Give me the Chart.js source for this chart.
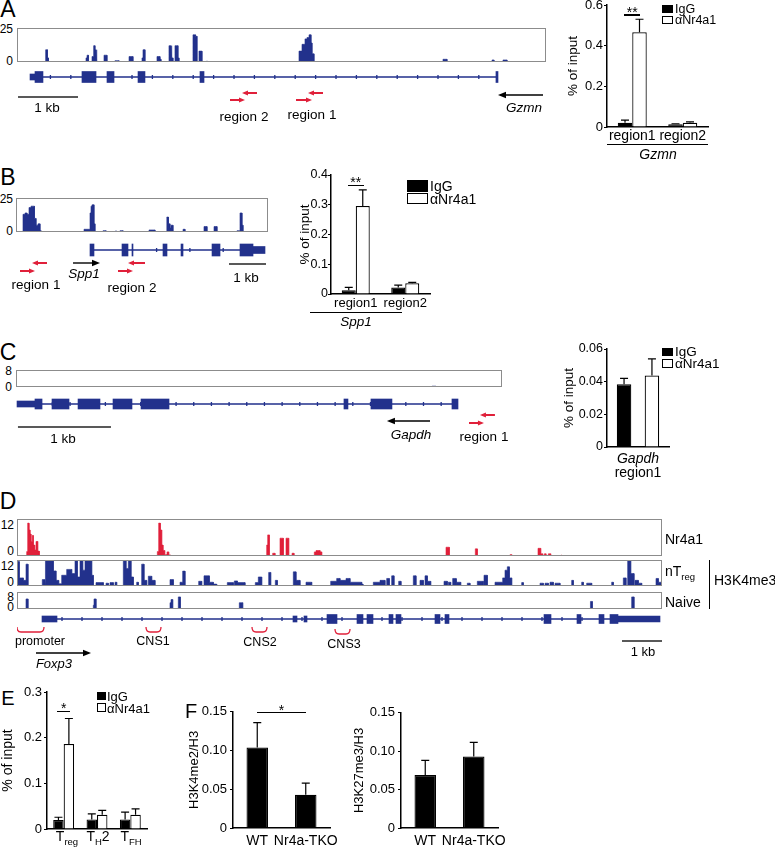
<!DOCTYPE html>
<html>
<head>
<meta charset="utf-8">
<script src="https://cdn.jsdelivr.net/npm/chart.js@4.4.0/dist/chart.umd.min.js"></script>
<style>
body { margin: 0; background: #fff; }
#fig { position: relative; width: 775px; height: 850px; overflow: hidden; font-family: "Liberation Sans", Arial, sans-serif; color: #000; }
#fig canvas { position: absolute; }
.t { position: absolute; white-space: nowrap; line-height: 1; }
.t sub { font-size: 0.68em; vertical-align: -0.45em; line-height: 0; }
.box { position: absolute; border: 1px solid #8c8c8c; box-sizing: border-box; }
.ln { position: absolute; background: #000; }
.sw { position: absolute; border: 1px solid #000; box-sizing: border-box; }
</style>
</head>
<body>
<div id="fig"></div>
<script>
// ChIP-seq coverage, [position bp, height] change points (height holds until the next point)
const gzmnChip = [[467,3],[483,9],[508,3],[525,0],[1150,3],[1167,5],[1192,0],
  [1250,4],[1267,9],[1283,12],[1300,9],[1317,5],[1333,0],[1450,5],[1500,0],[1633,1],[1700,0],
  [1867,4],[1933,0],[2083,3],[2100,9],[2133,0],[2333,4],[2383,2],[2400,0],
  [2533,12],[2567,11],[2583,3],[2600,0],[2633,12],[2683,3],[2700,0],
  [2933,20],[2975,19],[3000,0],[3033,8],[3083,0],[3150,0.5],[3183,0],
  [4700,8],[4750,13],[4800,17],[4833,18],[4867,20],[4900,14],[4917,6],[4950,0],
  [7100,2],[7167,0],[7917,1.5],[7950,0],[8100,1.5],[8167,0]];
const spp1Chip = [[189,13],[243,14],[297,13],[351,18],[405,19],[500,10],[541,5],[595,6],[649,1],[676,0],
  [1838,2],[2000,14],[2027,19],[2054,20],[2108,6],[2135,0],
  [2352,1],[2433,0],[2676,0.7],[2730,0],[2811,1],[2892,0],[3595,1.5],[3757,0],
  [4068,3],[4081,11],[4122,6],[4162,3],[4189,5],[4243,0],
  [4514,2],[4568,0],[5081,4],[5163,0],[5352,4],[5433,0],
  [5974,1],[6054,14],[6108,5],[6136,0]];
const gapdhChip = [[4472,0.4],[4515,0]];
const foxp3Nr4a1 = [[242,1.6],[267,12],[300,9.5],[325,8],[350,5.3],[383,7.5],[408,4],[442,2.2],[475,5.3],[517,1.8],[558,0],
  [3508,1.6],[3542,12],[3583,9.5],[3617,4],[3650,2],[3692,0.5],[3742,0],[3750,1.5],[3792,0.4],[3833,0],
  [6242,4],[6267,7.7],[6308,0],[6392,1],[6450,0],[6575,6.5],[6658,0],[6725,6.5],[6792,0],[6875,1],[6925,0],
  [7433,1.5],[7475,2],[7575,1.5],[7617,0],
  [10725,3.2],[10808,0],[11458,2.6],[11508,0],[12325,0.5],[12367,0],
  [13025,2.8],[13092,0.8],[13142,0],[13183,0.8],[13225,0],[13283,0.8],[13342,0],[13600,0.3],[13625,0]];
const foxp3Treg = [[0,13],[57,4.3],[157,3],[225,11.6],[275,0],[632,3.4],[700,0],
  [717,14],[908,8],[975,3],[1042,1.2],[1117,5.7],[1242,8.8],[1367,6.6],[1450,14],[1508,4.8],[1575,14],[1642,8.4],[1700,14],[1867,5.7],[1908,0],
  [1975,1.8],[2158,0],[2225,1.5],[2283,0],[2325,1.8],[2408,0],[2450,2],[2492,0],
  [2658,14],[2725,9.3],[2783,14],[2850,4.8],[2908,0],[2992,2],[3033,0],
  [3117,11.6],[3175,3],[3242,0],[3283,5.2],[3367,3],[3450,0],
  [3825,3.4],[3908,0],[4075,2],[4142,7.9],[4200,0],
  [4542,2.5],[4617,0],[4675,5.4],[4808,2],[4908,1],[4992,0],
  [5258,1.8],[5408,0],[5433,2.7],[5508,1.8],[5700,0],
  [5958,1.8],[6033,4.8],[6117,0],[6292,7.2],[6342,0],[6458,3],[6508,0],
  [6908,7.5],[6975,3],[7075,0],[7225,2],[7367,0],
  [7842,2.5],[7992,4],[8075,3],[8225,4],[8325,2],[8617,1],[8650,0],
  [8908,2],[9075,3],[9200,0],[9242,4],[9308,0],[9367,5.4],[9425,0],[9542,2.5],[9600,0],
  [9908,5.4],[9975,0],[10075,3],[10158,0],[10200,5.4],[10258,2.5],[10342,0],
  [10675,2.5],[10758,0],[10783,2],[10842,0],[10892,4],[10975,0],[10992,2],[11092,0],[11258,1.5],[11325,0],
  [11508,2.5],[11658,0],[11675,5.7],[11758,0],
  [11950,2],[12142,4.3],[12200,8.4],[12258,10.2],[12308,4.3],[12367,0],
  [12617,1.8],[12658,0],[13075,1.5],[13158,0],[13200,1.5],[13283,0],[13325,2],[13408,0],[13450,1.5],[13575,0],
  [13867,3],[13908,0],[14117,2],[14158,0],[14242,1.5],[14367,0],[14867,2],[14908,0],
  [15158,4.3],[15225,0],[15267,14],[15342,6.6],[15425,0],[15450,3],[15533,1.5],[15617,0],
  [15975,4],[16033,2],[16117,0]];
const foxp3Naive = [[225,8],[275,0],[1908,3],[1925,8],[1975,0],[3825,5],[3850,7.5],[3892,0],
  [4033,9.6],[4083,0],[5558,5],[5642,0],[14325,3],[14342,6],[14383,0],[15367,9.6],[15425,0]];

// gene models (bp from left edge of each track)
const gzmnExons = [[300,433],[1083,1317],[1500,1617],[2017,2133],[3050,3117],[7983,8017]];
const gzmnUtr = [[217,300]];
const spp1Exons = [[2000,2108],[2865,3027],[3135,3162],[3973,4081],[4460,4514],[5298,5514],[6054,6406]];
const spp1Utr = [[6406,6730]];
const gapdhExons = [[204,280],[387,570],[667,903],[1043,1247],[1344,1645],[3526,3569],[3816,4042],[4687,4752]];
const gapdhUtr = [[11,204]];
const foxp3Exons = [[7750,8000],[8500,8650],[8750,8900],[9300,9400],[9475,9600],[10450,10575],[10700,10800],
  [13175,13350],[14000,14100],[14550,14675],[14825,15025]];
const foxp3Utr = [[625,1000],[6900,7000],[7175,7250],[15025,16075]];

// primers (forward / reverse), transcription arrows, 1 kb bars, CNS brackets
const gzmnPrimerF = [[3550,3800],[4650,4917]];
const gzmnPrimerR = [[3750,4000],[4850,5100]];
const spp1PrimerF = [[108,514],[2757,3162]];
const spp1PrimerR = [[432,838],[3027,3487]];
const gapdhPrimerF = [[4870,5031]];
const gapdhPrimerR = [[4988,5149]];
const foxp3Regions = [[0,675],[3225,3600],[5875,6250],[7950,8325]];

// qPCR, % of input
const gzmnRegions = ['region1', 'region2'];
const gzmnIgG = [0.021, 0.013];
const gzmnIgGErr = [0.013, 0.003];
const gzmnNr4a1 = [0.466, 0.021];
const gzmnNr4a1Err = [0.064, 0.004];
const spp1Regions = ['region1', 'region2'];
const spp1IgG = [0.013, 0.022];
const spp1IgGErr = [0.009, 0.008];
const spp1Nr4a1 = [0.296, 0.036];
const spp1Nr4a1Err = [0.054, 0.003];
const gapdhIgG = [0.0384];
const gapdhIgGErr = [0.0036];
const gapdhNr4a1 = [0.0437];
const gapdhNr4a1Err = [0.0103];
const cellTypes = ['Treg', 'TH2', 'TFH'];
const foxp3IgG = [0.0197, 0.021, 0.021];
const foxp3IgGErr = [0.006, 0.012, 0.016];
const foxp3Nr4a1Bar = [0.186, 0.031, 0.031];
const foxp3Nr4a1Err = [0.056, 0.01, 0.013];
const genotypes = ['WT', 'Nr4a-TKO'];
const h3k4me2 = [0.104, 0.043];
const h3k4me2Err = [0.032, 0.015];
const h3k27me3 = [0.069, 0.093];
const h3k27me3Err = [0.019, 0.0185];

const NAVY = '#22318c';
const RED = '#e0203a';
Chart.defaults.font.family = '"Liberation Sans", Arial, sans-serif';
Chart.defaults.color = '#000';
Chart.defaults.animation = false;
Chart.defaults.responsive = false;

const fig = document.getElementById('fig');

function addCanvas(x, y, w, h) {
    const c = document.createElement('canvas');
    c.width = Math.round(w);
    c.height = Math.round(h);
    c.style.left = Math.round(x) + 'px';
    c.style.top = Math.round(y) + 'px';
    fig.appendChild(c);
    return c;
}

// y is the vertical centre of the text, unless opt.top is set (then y is the top of a 1em box)
function label(html, x, y, size, opt) {
    opt = opt || {};
    const d = document.createElement('div');
    d.className = 't';
    d.innerHTML = html;
    d.style.fontSize = size + 'px';
    d.style.left = x + 'px';
    d.style.top = (opt.top ? y : y) + 'px';
    const ax = opt.align === 'left' ? '0' : (opt.align === 'right' ? '-100%' : '-50%');
    d.style.transform = 'translate(' + ax + ', ' + (opt.top ? '0' : '-50%') + ')';
    if (opt.italic) d.style.fontStyle = 'italic';
    fig.appendChild(d);
}

function rule(x, y, w, h) {
    const d = document.createElement('div');
    d.className = 'ln';
    d.style.left = x + 'px'; d.style.top = y + 'px';
    d.style.width = w + 'px'; d.style.height = h + 'px';
    fig.appendChild(d);
}

function swatch(x, y, w, h, filled) {
    const d = document.createElement('div');
    d.className = 'sw';
    d.style.left = x + 'px'; d.style.top = y + 'px';
    d.style.width = w + 'px'; d.style.height = h + 'px';
    d.style.background = filled ? '#000' : '#fff';
    fig.appendChild(d);
}

// coverage track: filled step area inside a grey box
function trackChart(box, runs, len, maxVal, color) {
    const cv = addCanvas(box.x, box.y, box.w, box.h);
    const pts = [{x: 0, y: 0}];
    let prev = 0;
    runs.forEach(r => {
        pts.push({x: r[0], y: prev}, {x: r[0], y: r[1]});
        prev = r[1];
    });
    pts.push({x: len, y: prev}, {x: len, y: 0});
    new Chart(cv, {
        type: 'line',
        data: { datasets: [{ data: pts, fill: 'origin', backgroundColor: color, borderColor: color,
            borderWidth: 0.6, pointRadius: 0, tension: 0 }] },
        options: {
            layout: { padding: 0 },
            scales: {
                x: { type: 'linear', min: 0, max: len, display: false },
                y: { min: 0, max: maxVal, display: false }
            },
            plugins: { legend: { display: false }, tooltip: { enabled: false } }
        }
    });
    const b = document.createElement('div');
    b.className = 'box';
    b.style.left = box.x + 'px'; b.style.top = box.y + 'px';
    b.style.width = box.w + 'px'; b.style.height = box.h + 'px';
    fig.appendChild(b);
}

function drawArrow(ctx, x1, x2, y, color, lw, head) {
    const dir = Math.sign(x2 - x1);
    ctx.strokeStyle = color;
    ctx.fillStyle = color;
    ctx.lineWidth = lw;
    ctx.beginPath();
    ctx.moveTo(x1, y);
    ctx.lineTo(x2 - dir * head * 0.7, y);
    ctx.stroke();
    ctx.beginPath();
    ctx.moveTo(x2, y);
    ctx.lineTo(x2 - dir * head, y - head * 0.42);
    ctx.lineTo(x2 - dir * head, y + head * 0.42);
    ctx.closePath();
    ctx.fill();
}

const geneDraw = {
    id: 'geneDraw',
    beforeDatasetsDraw(chart, args, o) {
        const ctx = chart.ctx, xs = chart.scales.x;
        const cy = chart.scales.y.getPixelForValue(0);
        ctx.save();
        ctx.strokeStyle = NAVY;
        ctx.lineWidth = 1.3;
        ctx.beginPath();
        ctx.moveTo(xs.getPixelForValue(o.span[0]), cy);
        ctx.lineTo(xs.getPixelForValue(o.span[1]), cy);
        for (let p = o.span[0] + o.tick; p < o.span[1] - o.tick / 3; p += o.tick) {
            const px = xs.getPixelForValue(p);
            ctx.moveTo(px, cy - 2);
            ctx.lineTo(px, cy + 2);
        }
        ctx.stroke();
        ctx.restore();
    },
    afterDraw(chart, args, o) {
        const ctx = chart.ctx, xs = chart.scales.x;
        const cy = chart.scales.y.getPixelForValue(0);
        const px = v => xs.getPixelForValue(v);
        ctx.save();
        (o.fwd || []).forEach(p => drawArrow(ctx, px(p[0]), px(p[1]), cy + o.fwdDy, RED, 2, 6));
        (o.rev || []).forEach(p => drawArrow(ctx, px(p[1]), px(p[0]), cy + o.revDy, RED, 2, 6));
        if (o.tx) drawArrow(ctx, px(o.tx[0]), px(o.tx[1]), cy + o.txDy, '#000', 1.4, 8);
        if (o.bar) {
            ctx.strokeStyle = '#222';
            ctx.lineWidth = 1.5;
            ctx.beginPath();
            ctx.moveTo(px(o.bar[0]), cy + o.barDy);
            ctx.lineTo(px(o.bar[1]), cy + o.barDy);
            ctx.stroke();
        }
        (o.brackets || []).forEach((b, i) => {
            const x1 = px(b[0]), x2 = px(b[1]);
            const y1 = cy + o.brDy[i], y2 = y1 + 5;
            ctx.strokeStyle = RED;
            ctx.lineWidth = 1.3;
            ctx.beginPath();
            ctx.moveTo(x1, y1);
            ctx.quadraticCurveTo(x1, y2, x1 + 4, y2);
            ctx.lineTo(x2 - 4, y2);
            ctx.quadraticCurveTo(x2, y2, x2, y1);
            ctx.stroke();
        });
        ctx.restore();
    }
};

// gene model below a track, same genomic x range
function geneChart(x, geneY, w, h, len, exons, utr, exonH, utrH, anno) {
    const cv = addCanvas(x, geneY - 8, w, h);
    new Chart(cv, {
        type: 'bar',
        data: {
            labels: ['g'],
            datasets: [
                { data: exons.map(e => ({ y: 'g', x: e })), backgroundColor: NAVY, barThickness: exonH },
                { data: utr.map(e => ({ y: 'g', x: e })), backgroundColor: NAVY, barThickness: utrH }
            ]
        },
        options: {
            indexAxis: 'y',
            layout: { padding: { top: 0, left: 0, right: 0, bottom: h - 16 } },
            datasets: { bar: { grouped: false } },
            scales: {
                x: { type: 'linear', min: 0, max: len, display: false },
                y: { display: false }
            },
            plugins: { legend: { display: false }, tooltip: { enabled: false }, geneDraw: anno }
        },
        plugins: [geneDraw]
    });
}

const errorBars = {
    id: 'errorBars',
    afterDatasetsDraw(chart) {
        const ctx = chart.ctx, ys = chart.scales.y;
        ctx.save();
        ctx.strokeStyle = '#000';
        ctx.lineWidth = 1.2;
        chart.data.datasets.forEach((ds, i) => {
            chart.getDatasetMeta(i).data.forEach((bar, j) => {
                const top = ys.getPixelForValue(ds.data[j] + ds.errors[j]);
                ctx.beginPath();
                ctx.moveTo(bar.x, bar.y);
                ctx.lineTo(bar.x, top);
                ctx.moveTo(bar.x - 4, top);
                ctx.lineTo(bar.x + 4, top);
                ctx.stroke();
            });
        });
        ctx.restore();
    }
};

function barChart(c) {
    const a = c.area, padT = 10, padR = 40, xh = 26;
    const left = Math.round(c.titleX - c.titleSize * 0.6);
    const top = a.t - padT;
    const cv = addCanvas(left, top, a.r + padR - left, a.b + xh - top);
    const datasets = c.sets.map(s => ({
        data: s.data, errors: s.err, backgroundColor: s.fill ? '#000' : '#fff',
        borderColor: '#000', borderWidth: 1.2,
        categoryPercentage: c.catPct, barPercentage: c.barPct
    }));
    const chart = new Chart(cv, {
        type: 'bar',
        data: { labels: c.labels, datasets: datasets },
        options: {
            layout: { padding: { top: padT, right: padR, left: 0, bottom: 0 } },
            scales: {
                x: {
                    grid: { display: false, drawTicks: false },
                    border: { display: true, color: '#000', width: 1.5 },
                    ticks: { display: c.xTicks, font: { size: c.xTickSize }, padding: c.xTickPad, maxRotation: 0, autoSkip: false },
                    afterFit: s => { s.height = xh; }
                },
                y: {
                    min: 0, max: c.max,
                    ticks: { stepSize: c.step, font: { size: c.tickSize }, padding: c.tickPad },
                    grid: { drawOnChartArea: false, tickLength: 3, color: '#000' },
                    border: { display: true, color: '#000', width: 1.5 },
                    title: { display: true, text: c.title, font: { size: c.titleSize }, padding: 0 },
                    afterFit: s => { s.width = a.l - left; }
                }
            },
            plugins: { legend: { display: false }, tooltip: { enabled: false } }
        },
        plugins: [errorBars]
    });
    if (c.sig) {
        const s = c.sig;
        const A = chart.getDatasetMeta(s.a[0]).data[s.a[1]];
        const B = chart.getDatasetMeta(s.b[0]).data[s.b[1]];
        const y = top + chart.scales.y.getPixelForValue(s.v);
        const x1 = left + A.x - s.ext, x2 = left + B.x + s.ext;
        rule(x1, y - 0.6, x2 - x1, 1.3);
        label(s.text, (x1 + x2) / 2, y - 3, 14);
    }
    return chart;
}

// ---------- panel A ----------
label('A', 8, 9, 23);
label('25', 13, 29, 12, { align: 'right' });
label('0', 13, 61, 12, { align: 'right' });
trackChart({ x: 17, y: 28, w: 529, h: 34 }, gzmnChip, 8817, 25, NAVY);
geneChart(17, 77, 529, 42, 8817, gzmnExons, gzmnUtr, 11, 6, {
    span: [217, 8017], tick: 340,
    fwd: gzmnPrimerF, rev: gzmnPrimerR, fwdDy: 23, revDy: 16,
    tx: [8767, 8017], txDy: 18, bar: [17, 1017], barDy: 20
});
label('1 kb', 47, 108, 13.5);
label('region 2', 244, 117, 13.5);
label('region 1', 312, 115, 13.5);
label('Gzmn', 524, 108, 13.5, { italic: true });

barChart({
    area: { l: 607, t: 5, r: 708, b: 127 }, title: '% of input', titleX: 573, titleSize: 13.5,
    tickSize: 13, tickPad: 1, labels: gzmnRegions, xTicks: true, xTickSize: 14, xTickPad: 1,
    catPct: 0.574, barPct: 1, max: 0.6, step: 0.2,
    sets: [{ data: gzmnIgG, err: gzmnIgGErr, fill: true }, { data: gzmnNr4a1, err: gzmnNr4a1Err, fill: false }],
    sig: { a: [0, 0], b: [1, 0], v: 0.551, ext: 1, text: '**' }
});
rule(607, 144, 101, 1.2);
label('Gzmn', 658, 154, 14, { italic: true });
swatch(662, 5, 11, 8, true);
label('IgG', 675, 9, 12.5, { align: 'left' });
swatch(662, 16, 11, 8, false);
label('&alpha;Nr4a1', 675, 20, 12.5, { align: 'left' });

// ---------- panel B ----------
label('B', 8, 177, 23);
label('25', 13, 199, 12, { align: 'right' });
label('0', 13, 231, 12, { align: 'right' });
trackChart({ x: 16, y: 198, w: 252, h: 34 }, spp1Chip, 6811, 25, NAVY);
geneChart(16, 250, 252, 38, 6811, spp1Exons, spp1Utr, 12, 7, {
    span: [2000, 6730], tick: 900,
    fwd: spp1PrimerF, rev: spp1PrimerR, fwdDy: 21, revDy: 13,
    tx: [1541, 2270], txDy: 13, bar: [5757, 6757], barDy: 14
});
label('region 1', 36, 285, 13.5);
label('Spp1', 84, 274, 13.5, { italic: true });
label('region 2', 132, 288, 13.5);
label('1 kb', 246, 278, 13.5);

barChart({
    area: { l: 331, t: 175, r: 430, b: 294 }, title: '% of input', titleX: 305, titleSize: 13.5,
    tickSize: 12.5, tickPad: 0, labels: spp1Regions, xTicks: true, xTickSize: 13, xTickPad: 2,
    catPct: 0.566, barPct: 1, max: 0.4, step: 0.1,
    sets: [{ data: spp1IgG, err: spp1IgGErr, fill: true }, { data: spp1Nr4a1, err: spp1Nr4a1Err, fill: false }],
    sig: { a: [0, 0], b: [1, 0], v: 0.366, ext: 1, text: '**' }
});
rule(310, 312, 92, 1.2);
label('Spp1', 356, 322, 13.5, { italic: true });
swatch(407, 180, 21, 12, true);
label('IgG', 430, 186, 14, { align: 'left' });
swatch(407, 193, 21, 11, false);
label('&alpha;Nr4a1', 430, 199, 14, { align: 'left' });

// ---------- panel C ----------
label('C', 8, 352, 23);
label('8', 12, 371, 12, { align: 'right' });
label('0', 12, 387, 12, { align: 'right' });
trackChart({ x: 16, y: 370, w: 486, h: 17 }, gapdhChip, 5225, 8, NAVY);
geneChart(16, 404, 486, 40, 5225, gapdhExons, gapdhUtr, 10, 6, {
    span: [11, 4752], tick: 190,
    fwd: gapdhPrimerF, rev: gapdhPrimerR, fwdDy: 19, revDy: 11,
    tx: [4451, 3988], txDy: 17, bar: [21, 1021], barDy: 23
});
label('1 kb', 63, 439, 13.5);
label('Gapdh', 411, 435, 13.5, { italic: true });
label('region 1', 484, 437, 13.5);

barChart({
    area: { l: 607, t: 349, r: 669, b: 447 }, title: '% of input', titleX: 569, titleSize: 13.5,
    tickSize: 12.5, tickPad: 1, labels: ['Gapdh region1'], xTicks: false, xTickSize: 13, xTickPad: 2,
    catPct: 0.9, barPct: 0.52, max: 0.06, step: 0.02,
    sets: [{ data: gapdhIgG, err: gapdhIgGErr, fill: true }, { data: gapdhNr4a1, err: gapdhNr4a1Err, fill: false }]
});
label('Gapdh', 638, 458, 14, { italic: true });
label('region1', 638, 472, 14);
swatch(662, 348, 11, 8, true);
label('IgG', 675, 352, 13.5, { align: 'left' });
swatch(662, 359, 11, 9, false);
label('&alpha;Nr4a1', 675, 364, 13.5, { align: 'left' });

// ---------- panel D ----------
label('D', 8, 501, 23);
label('12', 14, 525, 12, { align: 'right' });
label('0', 14, 551, 12, { align: 'right' });
label('12', 14, 566, 12, { align: 'right' });
label('0', 14, 582, 12, { align: 'right' });
label('8', 14, 597, 12, { align: 'right' });
label('0', 14, 607, 12, { align: 'right' });
trackChart({ x: 17, y: 519, w: 645, h: 37 }, foxp3Nr4a1, 16125, 13.5, RED);
trackChart({ x: 17, y: 560, w: 645, h: 26 }, foxp3Treg, 16125, 13.8, NAVY);
trackChart({ x: 17, y: 592, w: 645, h: 17 }, foxp3Naive, 16125, 13.5, NAVY);
geneChart(17, 619, 645, 50, 16125, foxp3Exons, foxp3Utr, 9, 6, {
    span: [625, 16075], tick: 500,
    tx: [475, 1850], txDy: 34, bar: [15125, 16125], barDy: 22,
    brackets: foxp3Regions, brDy: [8, 8, 8, 10]
});
label('Nr4a1', 665, 539, 14, { align: 'left' });
label('nT<sub>reg</sub>', 665, 571, 14, { align: 'left' });
label('Naive', 665, 602, 14, { align: 'left' });
rule(709, 560, 1.2, 49);
label('H3K4me3', 714, 580, 14, { align: 'left' });
label('promoter', 40, 641, 12.5);
label('CNS1', 153, 641, 12.5);
label('CNS2', 260, 642, 12.5);
label('CNS3', 344, 644, 12.5);
label('1 kb', 643, 651, 13);
label('Foxp3', 54, 663, 13, { italic: true });

// ---------- panel E ----------
label('E', 8, 698, 20);
barChart({
    area: { l: 47, t: 692, r: 147, b: 829 }, title: '% of input', titleX: 8, titleSize: 14,
    tickSize: 13, tickPad: 2, labels: cellTypes, xTicks: false, xTickSize: 13, xTickPad: 2,
    catPct: 0.627, barPct: 1, max: 0.3, step: 0.1,
    sets: [{ data: foxp3IgG, err: foxp3IgGErr, fill: true }, { data: foxp3Nr4a1Bar, err: foxp3Nr4a1Err, fill: false }],
    sig: { a: [0, 0], b: [1, 0], v: 0.258, ext: 1, text: '*' }
});
label('T<sub>reg</sub>', 67, 829, 14, { top: true });
label('T<sub>H</sub>2', 98, 829, 14, { top: true });
label('T<sub>FH</sub>', 131, 829, 14, { top: true });
swatch(97, 692, 9, 8, true);
label('IgG', 107, 696, 13, { align: 'left' });
swatch(97, 703, 9, 9, false);
label('&alpha;Nr4a1', 107, 708, 13, { align: 'left' });

// ---------- panel F ----------
label('F', 191, 711, 20);
barChart({
    area: { l: 233, t: 711, r: 330, b: 828 }, title: 'H3K4me2/H3', titleX: 195, titleSize: 13,
    tickSize: 13, tickPad: 3, labels: genotypes, xTicks: true, xTickSize: 14, xTickPad: 5,
    catPct: 1, barPct: 0.443, max: 0.15, step: 0.05,
    sets: [{ data: h3k4me2, err: h3k4me2Err, fill: true }],
    sig: { a: [0, 0], b: [0, 1], v: 0.149, ext: 0, text: '*' }
});
barChart({
    area: { l: 401, t: 712, r: 498, b: 828 }, title: 'H3K27me3/H3', titleX: 360, titleSize: 13,
    tickSize: 13, tickPad: 3, labels: genotypes, xTicks: true, xTickSize: 14, xTickPad: 5,
    catPct: 1, barPct: 0.443, max: 0.15, step: 0.05,
    sets: [{ data: h3k27me3, err: h3k27me3Err, fill: true }]
});
</script>
</body>
</html>
